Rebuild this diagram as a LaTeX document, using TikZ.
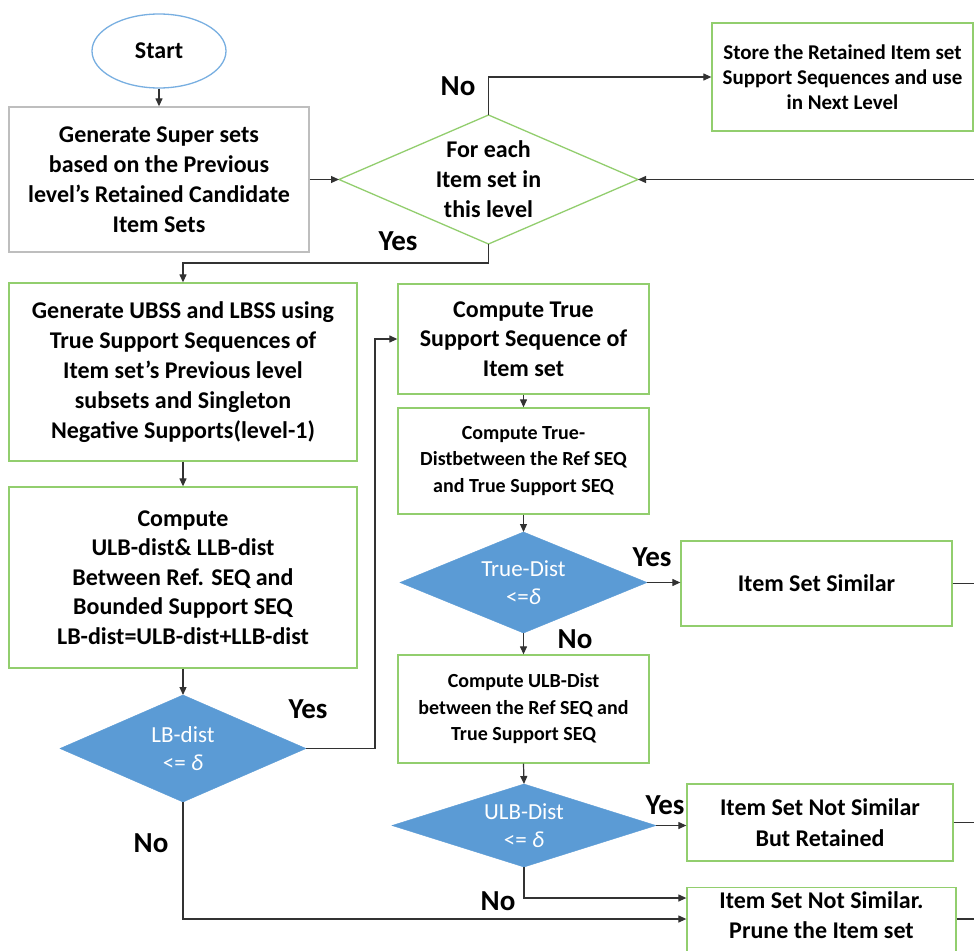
\documentclass[tikz,border=0pt]{standalone}
\usepackage{fontspec}
\setmainfont{Carlito}
\usetikzlibrary{shapes.geometric,arrows.meta}
\definecolor{boxgreen}{RGB}{146,206,110}
\definecolor{boxgray}{RGB}{190,190,190}
\definecolor{startblue}{RGB}{120,175,225}
\definecolor{decblue}{RGB}{91,155,213}
\definecolor{linegray}{RGB}{50,50,50}
\tikzset{
  gbox/.style={draw=boxgreen, line width=1.3pt, fill=white, align=center, inner sep=0pt, font=\bfseries\fontsize{24}{30}\selectfont},
  graybox/.style={gbox, draw=boxgray},
  smallbox/.style={gbox, font=\bfseries\fontsize{20}{26.5}\selectfont},
  dec/.style={diamond, fill=decblue, draw=decblue, inner sep=0pt, outer sep=0pt, text=white, align=center, font=\fontsize{23}{28}\selectfont},
  fordec/.style={diamond, draw=boxgreen, line width=1.3pt, inner sep=0pt, outer sep=0pt, align=center, font=\bfseries\fontsize{24}{30}\selectfont},
  lbl/.style={font=\bfseries\fontsize{29}{30}\selectfont, inner sep=0pt},
  conn/.style={draw=linegray, line width=1.2pt},
  arr/.style={conn, -{Triangle[length=8pt,width=7pt]}},
}
\begin{document}
\begin{tikzpicture}[x=1pt,y=-1pt]
\useasboundingbox (0,0) rectangle (974,950);
\fill[white] (0,0) rectangle (974,950);
% nodes
\node[ellipse, draw=startblue, line width=1.3pt, minimum width=134pt, minimum height=74pt, inner sep=0pt, font=\bfseries\fontsize{24}{30}\selectfont] (start) at (159,51) {Start};
\node[graybox, minimum width=300pt, minimum height=145pt] (b1) at (159,179.5) {Generate Super sets\\based on the Previous\\level’s Retained Candidate\\Item Sets};
\node[fordec, minimum width=299pt, minimum height=129pt, aspect=2.32] (d1) at (488.5,179.5) {For each\\Item set in\\this level};
\node[gbox, minimum width=261pt, minimum height=108pt, font=\bfseries\fontsize{21}{25}\selectfont] (store) at (842.5,77) {Store the Retained Item set\\Support Sequences and use\\in Next Level};
\node[gbox, minimum width=348pt, minimum height=178pt] (b2) at (183,372) {Generate UBSS and LBSS using\\True Support Sequences of\\Item set’s Previous level\\subsets and Singleton\\Negative Supports(level-1)};
\node[gbox, minimum width=348pt, minimum height=181pt, font=\bfseries\fontsize{24}{29.5}\selectfont] (b3) at (183,577.5) {Compute\\ULB-dist\& LLB-dist\\Between Ref. SEQ and\\Bounded Support SEQ\\LB-dist=ULB-dist+LLB-dist};
\node[dec, minimum width=246pt, minimum height=107pt, aspect=2.3] (d2) at (183,748.5) {LB-dist\\<= \textit{δ}};
\node[gbox, minimum width=251pt, minimum height=110pt, font=\bfseries\fontsize{24}{29.5}\selectfont] (b4) at (523.5,339) {Compute True\\Support Sequence of\\Item set};
\node[smallbox, minimum width=251pt, minimum height=106pt] (b5) at (523.5,461) {Compute True-\\Distbetween the Ref SEQ\\and True Support SEQ};
\node[dec, minimum width=247pt, minimum height=101pt, aspect=2.45] (d3) at (523.5,582.5) {True-Dist\\<=\textit{δ}};
\node[gbox, minimum width=271pt, minimum height=85pt] (sim) at (816.5,583.5) {Item Set Similar};
\node[smallbox, minimum width=251pt, minimum height=108pt] (b6) at (523.5,709) {Compute ULB-Dist\\between the Ref SEQ and\\True Support SEQ};
\node[dec, minimum width=264pt, minimum height=83pt, aspect=3.18] (d4) at (524,825.5) {ULB-Dist\\<= \textit{δ}};
\node[gbox, minimum width=266pt, minimum height=77pt, font=\bfseries\fontsize{24}{31}\selectfont] (ret) at (820,822.5) {Item Set Not Similar\\But Retained};
\node[gbox, minimum width=269pt, minimum height=70pt, anchor=north, text depth=15pt, font=\bfseries\fontsize{24}{30.5}\selectfont] (prune) at (821.5,887) {Item Set Not Similar.\\Prune the Item set};
% labels
\node[lbl] (lno1) at (458,86) {No};
\node[lbl] (lyes1) at (398,241) {Yes};
\node[lbl] (lyes2) at (308,709) {Yes};
\node[lbl] (lno2) at (151,843) {No};
\node[lbl] (lyes3) at (652,557) {Yes};
\node[lbl] (lno3) at (575,639) {No};
\node[lbl] (lyes4) at (665,805) {Yes};
\node[lbl] (lno4) at (498,901) {No};
% coordinates
\coordinate (eR1) at (974,179.5);
\coordinate (eS) at (974,583.5);
\coordinate (eR) at (974,822.5);
\coordinate (eP) at (974,919);
\coordinate (jd1) at (488.5,263);
\coordinate (jd2) at (375,748.5);
\coordinate (jlb) at (183,919);
\coordinate (jul) at (524,898);
% connectors
\draw[arr] (start.south) -- (b1.north);
\draw[arr] (b1.east) -- (d1.west);
\draw[arr] (d1.north) |- (store.west);
\draw[arr] (eR1) -- (d1.east);
\draw[arr] (d1.south) -- (jd1) -| (b2.north);
\draw[arr] (b2.south) -- (b3.north);
\draw[arr] (b3.south) -- (d2.north);
\draw[arr] (d2.east) -- (jd2) |- (b4.west);
\draw[arr] (d2.south) -- (jlb) -- (jlb -| prune.west);
\draw[arr] (b4.south) -- (b5.north);
\draw[arr] (b5.south) -- (d3.north);
\draw[arr] (d3.east) -- (d3.east -| sim.west);
\draw[conn] (sim.east) -- (eS);
\draw[arr] (d3.south) -- (b6.north);
\draw[arr] (b6.south) -- (d4.north);
\draw[arr] (d4.east) -- (d4.east -| ret.west);
\draw[conn] (ret.east) -- (eR);
\draw[arr] (d4.south) -- (jul) -- (jul -| prune.west);
\draw[conn] (eP -| prune.east) -- (eP);
\end{tikzpicture}
\end{document}
